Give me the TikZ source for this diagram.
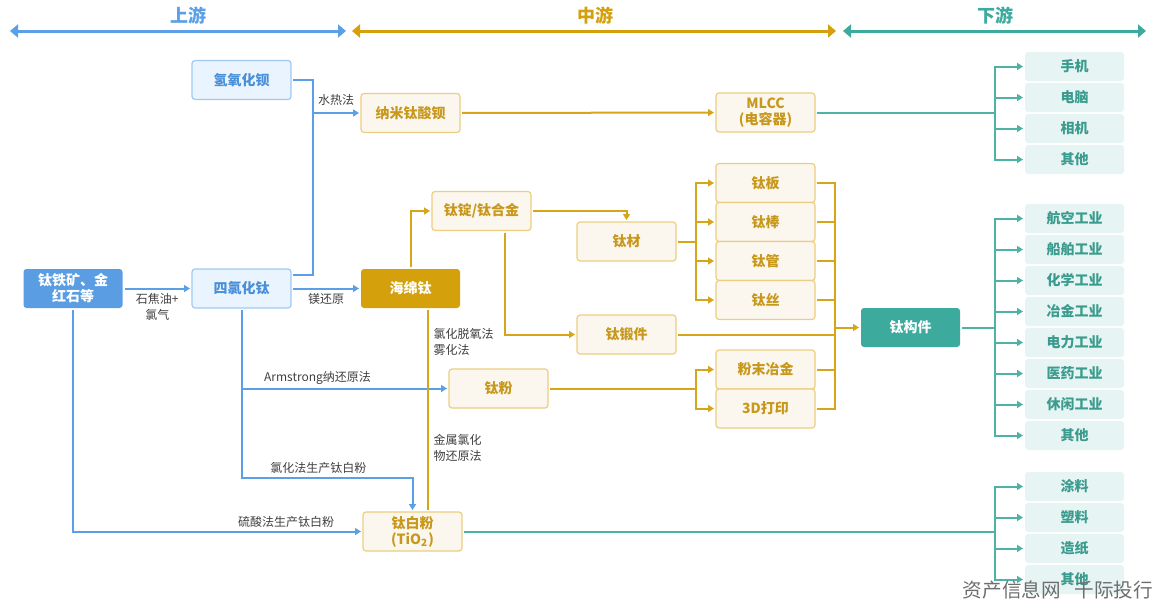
\documentclass[tikz,border=0pt]{standalone}
\usepackage{fontspec}
\setmainfont{Noto Sans CJK SC}
\usepackage{xcolor}
\usepackage{tikz}
\usetikzlibrary{arrows.meta}
\definecolor{upblue}{RGB}{91,160,230}
\definecolor{oreblue}{RGB}{90,157,226}
\definecolor{paleblue}{RGB}{234,244,254}
\definecolor{edgeblue}{RGB}{160,202,242}
\definecolor{textblue}{RGB}{74,144,217}
\definecolor{midgold}{RGB}{212,160,12}
\definecolor{linegold}{RGB}{214,165,26}
\definecolor{cream}{RGB}{251,247,238}
\definecolor{edgegold}{RGB}{236,206,128}
\definecolor{textgold}{RGB}{200,152,28}
\definecolor{downteal}{RGB}{61,170,158}
\definecolor{lineteal}{RGB}{78,178,164}
\definecolor{paleteal}{RGB}{230,245,243}
\definecolor{textteal}{RGB}{58,155,142}
\definecolor{lblgray}{RGB}{64,64,64}
\definecolor{wmgray}{RGB}{110,110,110}
\newcommand{\bxfont}{\fontsize{7}{8}\selectfont\bfseries}
\tikzstyle{base} = [rectangle, rounded corners=1.5pt, minimum width=49.5pt, minimum height=19.5pt, inner sep=0pt, outer sep=1pt, align=center, font=\bxfont]
\tikzstyle{orebox} = [base, fill=oreblue, text=white]
\tikzstyle{bluebox} = [base, fill=paleblue, draw=edgeblue, line width=0.6pt, text=textblue]
\tikzstyle{goldbox} = [base, fill=midgold, text=white]
\tikzstyle{creambox} = [base, fill=cream, draw=edgegold, line width=0.6pt, text=textgold]
\tikzstyle{tealbox} = [base, fill=downteal, text=white]
\tikzstyle{usebox} = [base, minimum height=14.5pt, fill=paleteal, text=textteal]
\tikzstyle{lbl} = [inner sep=1pt, align=center, text=lblgray, font=\fontsize{6}{8}\selectfont]
\tikzstyle{headtext} = [font=\fontsize{9}{10}\selectfont\bfseries]
\tikzstyle{headarrow} = [line width=1.5pt, {Triangle[length=4pt,width=6.5pt]}-{Triangle[length=4pt,width=6.5pt]}]
\tikzstyle{bline} = [line width=1pt, draw=upblue]
\tikzstyle{barrow} = [bline, -{Triangle[length=3pt,width=3.5pt]}]
\tikzstyle{gline} = [line width=1pt, draw=linegold]
\tikzstyle{garrow} = [gline, -{Triangle[length=3pt,width=3.5pt]}]
\tikzstyle{tline} = [line width=1pt, draw=lineteal]
\tikzstyle{tarrow} = [tline, -{Triangle[length=3pt,width=3.5pt]}]
\begin{document}
\begin{tikzpicture}[x=0.5pt, y=-0.5pt, node distance=15.5pt]
\useasboundingbox (0,0) rectangle (1154,600);
% header
\node (hup) [headtext, text=upblue] at (188,16) {上游};
\node (hmid) [headtext, text=midgold] at (595,16) {中游};
\node (hdown) [headtext, text=downteal] at (995,16) {下游};
\coordinate (u1) at (10,31);
\coordinate (u2) at (346,31);
\coordinate (m1) at (352,31);
\coordinate (m2) at (836,31);
\coordinate (d1) at (843,31);
\coordinate (d2) at (1146,31);
\draw [headarrow, draw=upblue, fill=upblue] (u1) -- (u2);
\draw [headarrow, draw=midgold, fill=midgold] (m1) -- (m2);
\draw [headarrow, draw=downteal, fill=downteal] (d1) -- (d2);

% upstream
\node (ore) [orebox] at (73,288.5) {钛铁矿、金\\红石等};
\node (baoh) [bluebox] at (241.5,80) {氢氧化钡};
\node (ticl4) [bluebox] at (241.5,288.5) {四氯化钛};

% midstream
\node (nano) [creambox] at (410.5,113) {纳米钛酸钡};
\node (sponge) [goldbox] at (410.5,288.5) {海绵钛};
\node (ingot) [creambox] at (481.5,211) {钛锭/钛合金};
\node (timat) [creambox] at (626.5,241.5) {钛材};
\node (forge) [creambox] at (626.5,334.5) {钛锻件};
\node (tipow) [creambox] at (498.5,388.5) {钛粉};
\node (tiwhite) [creambox] at (412.5,531.5) {钛白粉\\(TiO\textsubscript{2})};
\node (mlcc) [creambox] at (765.5,112.5) {MLCC\\(电容器)};
\node (plate) [creambox] at (765.5,183) {钛板};
\node (rod) [creambox, below of=plate, node distance=19.5pt] {钛棒};
\node (tube) [creambox, below of=rod, node distance=19.5pt] {钛管};
\node (wire) [creambox, below of=tube, node distance=19.5pt] {钛丝};
\node (pm) [creambox] at (765.5,369.5) {粉末冶金};
\node (print) [creambox, below of=pm, node distance=19.5pt] {3D打印};
\node (part) [tealbox] at (910.5,327.5) {钛构件};

% downstream
\node (phone) [usebox] at (1074.5,66.5) {手机};
\node (pc) [usebox, below of=phone] {电脑};
\node (camera) [usebox, below of=pc] {相机};
\node (othera) [usebox, below of=camera] {其他};
\node (aviation) [usebox] at (1074.5,218.5) {航空工业};
\node (ship) [usebox, below of=aviation] {船舶工业};
\node (chem) [usebox, below of=ship] {化学工业};
\node (metal) [usebox, below of=chem] {冶金工业};
\node (power) [usebox, below of=metal] {电力工业};
\node (med) [usebox, below of=power] {医药工业};
\node (leisure) [usebox, below of=med] {休闲工业};
\node (otherb) [usebox, below of=leisure] {其他};
\node (coating) [usebox] at (1074.5,486.5) {涂料};
\node (plastic) [usebox, below of=coating] {塑料};
\node (paper) [usebox, below of=plastic] {造纸};
\node (otherc) [usebox, below of=paper] {其他};

% blue connectors
\coordinate (bj) at (313,113);
\coordinate (bt) at (313,275);
\coordinate (tb) at (0,478);
\draw [bline] (baoh.east) -| (bt) -- (bt -| ticl4.east);
\draw [barrow] (bj) -- node (lhydro) [lbl, above=2pt] {水热法} (nano);
\draw [barrow] (ore) -- node (lcoke) [lbl, below=1pt] {石焦油+\\氯气} (ticl4);
\draw [barrow] (ticl4) -- node (lmg) [lbl, below=1pt] {镁还原} (sponge);
\draw [barrow] (ticl4.south) -- (ticl4.south |- tb) -- node (lchlor) [lbl, above=0.5pt, pos=0.45] {氯化法生产钛白粉} (tiwhite.north |- tb) -- (tiwhite.north);
\draw [barrow] (ticl4.south |- tipow.west) -- node (larm) [lbl, above=0.5pt, pos=0.37] {Armstrong纳还原法} (tipow.west);
\draw [barrow] (ore.south) |- node (lsulf) [lbl, above=0.5pt, pos=0.87] {硫酸法生产钛白粉} (tiwhite.west);

% gold connectors
\coordinate (ja) at (696,0);
\coordinate (jb) at (835,0);
\draw [garrow] (nano) -- (mlcc);
\draw [garrow] (sponge.north) |- (ingot.west);
\draw [gline] ([xshift=8.5pt]sponge.south) -- node (ldeox) [lbl, anchor=west, pos=0.16, align=left, xshift=1.5pt] {氯化脱氧法\\雾化法} node (lmetal) [lbl, anchor=west, pos=0.69, align=left, xshift=1.5pt] {金属氯化\\物还原法} ([xshift=8.5pt]sponge.south |- tiwhite.north);
\draw [garrow] (ingot.east) -| (timat.north);
\draw [garrow] ([xshift=11.5pt]ingot.south) |- (forge.west);
\foreach \n in {plate,rod,tube,wire}
  \draw [garrow] (timat.east) -- (timat.east -| ja) |- (\n.west);
\foreach \n in {pm,print}
  \draw [garrow] (tipow.east) -- (tipow.east -| ja) |- (\n.west);
\foreach \n in {plate,rod,tube,wire,forge,pm,print}
  \draw [gline] (\n.east) -- (\n.east -| jb) -- (jb |- part.west);
\draw [garrow] (jb |- part.west) -- (part.west);

% teal connectors
\coordinate (jc) at (995,0);
\foreach \n in {phone,pc,camera,othera}
  \draw [tarrow] (mlcc.east) -- (mlcc.east -| jc) |- (\n.west);
\foreach \n in {aviation,ship,chem,metal,power,med,leisure,otherb}
  \draw [tarrow] (part.east) -- (part.east -| jc) |- (\n.west);
\foreach \n in {coating,plastic,paper,otherc}
  \draw [tarrow] (tiwhite.east) -- (tiwhite.east -| jc) |- (\n.west);

\node (wmark) [font=\fontsize{9.8}{10}\selectfont, text=wmgray] at (1058,590) {资产信息网\hspace{0.7em}千际投行};
\end{tikzpicture}
\end{document}
